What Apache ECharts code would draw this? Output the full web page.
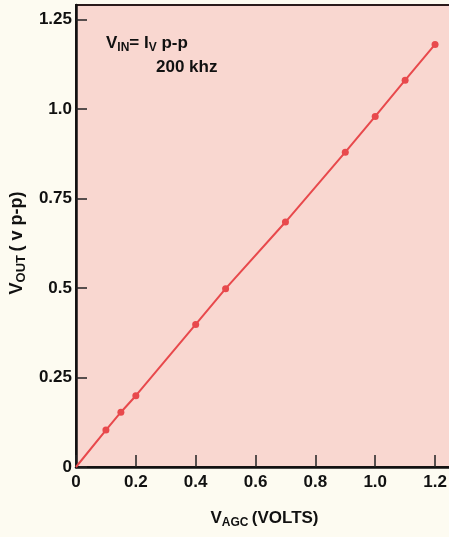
<!DOCTYPE html>
<html>
<head>
<meta charset="utf-8">
<script src="https://cdn.jsdelivr.net/npm/echarts@6/dist/echarts.min.js"></script>
<style>
html,body{margin:0;padding:0;background:#fdfbf1;}
#chart{width:449px;height:537px;}
</style>
</head>
<body>
<div id="chart"></div>
<script>
// Data
const vAgc = [0, 0.1, 0.15, 0.2, 0.4, 0.5, 0.7, 0.9, 1.0, 1.1, 1.2];
const vOut = [0, 0.103, 0.153, 0.199, 0.398, 0.498, 0.684, 0.879, 0.979, 1.08, 1.18];
const yTickLabels = {"0": "0", "0.25": "0.25", "0.5": "0.5", "0.75": "0.75", "1": "1.0", "1.25": "1.25"};
const xTickLabels = {"0": "0", "0.2": "0.2", "0.4": "0.4", "0.6": "0.6", "0.8": "0.8", "1": "1.0", "1.2": "1.2"};

const points = vAgc.map((x, i) => [x, vOut[i]]);
const chart = echarts.init(document.getElementById('chart'));
const FONT = 'Liberation Sans, Arial, sans-serif';
chart.setOption({
  backgroundColor: '#fdfbf1',
  animation: false,
  grid: {
    left: 76, right: -4, top: 5, bottom: 70,
    containLabel: false, outerBoundsMode: 'none',
    show: true, backgroundColor: '#f9d7d0', borderColor: '#2a1a1a', borderWidth: 2
  },
  xAxis: {
    type: 'value', min: 0, max: 1.26, interval: 0.2,
    splitLine: {show: false},
    axisLine: {show: true, lineStyle: {color: '#111', width: 2.5}},
    axisTick: {show: true, inside: true, length: 12, lineStyle: {color: '#222', width: 1.5}},
    axisLabel: {
      color: '#111', fontSize: 17, fontWeight: 'bold', fontFamily: FONT, margin: 7, showMaxLabel: false,
      formatter: v => { const k = String(Math.round(v * 10) / 10); return xTickLabels[k] !== undefined ? xTickLabels[k] : ''; }
    },
    name: '{m|V}{s|AGC} {m|(VOLTS)}',
    nameLocation: 'middle', nameGap: 40,
    nameTextStyle: {
      rich: {
        m: {fontSize: 17, fontWeight: 'bold', color: '#111', fontFamily: FONT},
        s: {fontSize: 12, fontWeight: 'bold', color: '#111', fontFamily: FONT, padding: [10, 0, 0, 0]}
      }
    }
  },
  yAxis: {
    type: 'value', min: 0, max: 1.29, interval: 0.25,
    splitLine: {show: false},
    axisLine: {show: true, lineStyle: {color: '#111', width: 2.5}},
    axisTick: {show: true, inside: true, length: 11, lineStyle: {color: '#222', width: 1.5}},
    axisLabel: {
      color: '#111', fontSize: 17, fontWeight: 'bold', fontFamily: FONT, margin: 4, showMaxLabel: false,
      formatter: v => { const k = String(Math.round(v * 100) / 100); return yTickLabels[k] !== undefined ? yTickLabels[k] : ''; }
    },
    name: '{m|V}{s|OUT} {m|( v p-p)}',
    nameLocation: 'middle', nameGap: 48,
    nameTextStyle: {
      padding: [0, 0, 0, -14],
      rich: {
        m: {fontSize: 18, fontWeight: 'bold', color: '#111', fontFamily: FONT},
        s: {fontSize: 13, fontWeight: 'bold', color: '#111', fontFamily: FONT, padding: [9, 0, 0, 0]}
      }
    }
  },
  graphic: [
    {
      type: 'text', left: 106, top: 35,
      style: {
        text: '{m|V}{s|IN}{m|= I}{s|V}{m| p-p}',
        rich: {
          m: {fontSize: 17, fontWeight: 'bold', fill: '#111', fontFamily: FONT},
          s: {fontSize: 12, fontWeight: 'bold', fill: '#111', fontFamily: FONT, padding: [8, 0, 0, 0]}
        }
      }
    },
    {
      type: 'text', left: 156, top: 59,
      style: {text: '200 khz', fontSize: 17, fontWeight: 'bold', fill: '#111', fontFamily: FONT}
    }
  ],
  series: [{
    type: 'line',
    data: points,
    lineStyle: {color: '#e8494c', width: 2},
    itemStyle: {color: '#e8494c'},
    symbol: 'circle',
    symbolSize: v => (v[0] === 0 ? 0 : 7),
    showSymbol: true
  }]
});
</script>
</body>
</html>
